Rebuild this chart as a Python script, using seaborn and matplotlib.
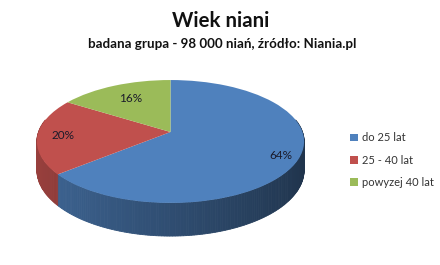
import numpy as np
import matplotlib
matplotlib.use("Agg")
import matplotlib.pyplot as plt
import matplotlib.transforms as mtransforms
import seaborn as sns

# ---- data ----
categories = ["do 25 lat", "25 - 40 lat", "powyzej 40 lat"]
values = [64, 20, 16]
pct_labels = ["64%", "20%", "16%"]
title = "Wiek niani"
subtitle = "badana grupa - 98 000 niań, źródło: Niania.pl"

# ---- style ----
sns.set_theme(style="white")
plt.rcParams["font.family"] = ["Lato", "DejaVu Sans"]
top_colors = sns.color_palette(["#4F81BD", "#C0504D", "#9BBB59"])
label_r = [0.87, 0.81, 0.69]

# geometry (pixel-like units of the figure)
CX, CY = 170.5, 132.0   # projected centre of the top face
AX_, SY = 132.0, 60.0   # horizontal / vertical radius scale
P = 0.1545              # perspective strength
H = 28.0                # thickness of the pie


def project(u, v, z=0.0):
    w = 1.0 + P * v
    return CX + AX_ * u / w, CY - (SY * v + H * z) / w


class Persp(mtransforms.Transform):
    input_dims = 2
    output_dims = 2
    is_separable = False

    def transform_non_affine(self, xy):
        xy = np.asarray(xy, dtype=float)
        x, y = project(xy[:, 0], xy[:, 1])
        return np.column_stack([x, y])


fig = plt.figure(figsize=(4.4, 2.65), dpi=100)
ax = fig.add_axes([0, 0, 1, 1])

wedges, _ = ax.pie(values, startangle=90, counterclock=False,
                   colors=top_colors, wedgeprops=dict(linewidth=0))
persp = Persp()
for wdg in wedges:
    wdg.set_transform(persp + ax.transData)
    wdg.set_zorder(3)

# ---- sides ----
def side_shade(u):
    return 0.6 - 0.2 * u

for wdg, col in zip(wedges, top_colors):
    t1, t2 = wdg.theta1, wdg.theta2
    for k in (-1, 0, 1):
        a = max(t1 + 360 * k, 168.0)
        b = min(t2 + 360 * k, 372.0)
        if a >= b:
            continue
        n = max(int((b - a) / 1.0), 1)
        ts = np.radians(np.linspace(a, b, n + 1))
        for i in range(n):
            tt = np.array([ts[i], ts[i + 1]])
            u, v = np.cos(tt), np.sin(tt)
            xt, yt = project(u, v, 0.0)
            xb, yb = project(u, v, -1.0)
            f = side_shade(np.cos(tt.mean()))
            c = tuple(np.clip(np.array(col) * f, 0, 1))
            ax.fill([xt[0], xt[1], xb[1], xb[0]], [yt[0], yt[1], yb[1], yb[0]],
                    color=c, lw=0.6, zorder=2)

# ---- percentage labels ----
for wdg, txt, r in zip(wedges, pct_labels, label_r):
    mid = np.radians((wdg.theta1 + wdg.theta2) / 2)
    x, y = project(r * np.cos(mid), r * np.sin(mid))
    ax.text(x, y, txt, ha="center", va="center", fontsize=8.5,
            color="#1a1a2a", zorder=5)

ax.set_xlim(0, 440)
ax.set_ylim(265, 0)
ax.set_aspect("auto")
ax.axis("off")

# ---- titles ----
fig.text(221 / 440, 1 - 27 / 265, title, ha="center", va="baseline",
         fontsize=14.7, fontweight="bold", color="#111111")
fig.text(222 / 440, 1 - 48 / 265, subtitle, ha="center", va="baseline",
         fontsize=9.6, fontweight="bold", color="#111111")

# ---- legend ----
ax.legend(wedges, categories, loc="center left",
          bbox_to_anchor=(350 / 440, 1 - 160 / 265), frameon=False,
          handlelength=0.7, handleheight=0.7, handletextpad=0.35,
          labelspacing=1.0, fontsize=8, labelcolor="#333333",
          borderpad=0, borderaxespad=0)

fig.savefig("out.png", dpi=100, facecolor="white")
